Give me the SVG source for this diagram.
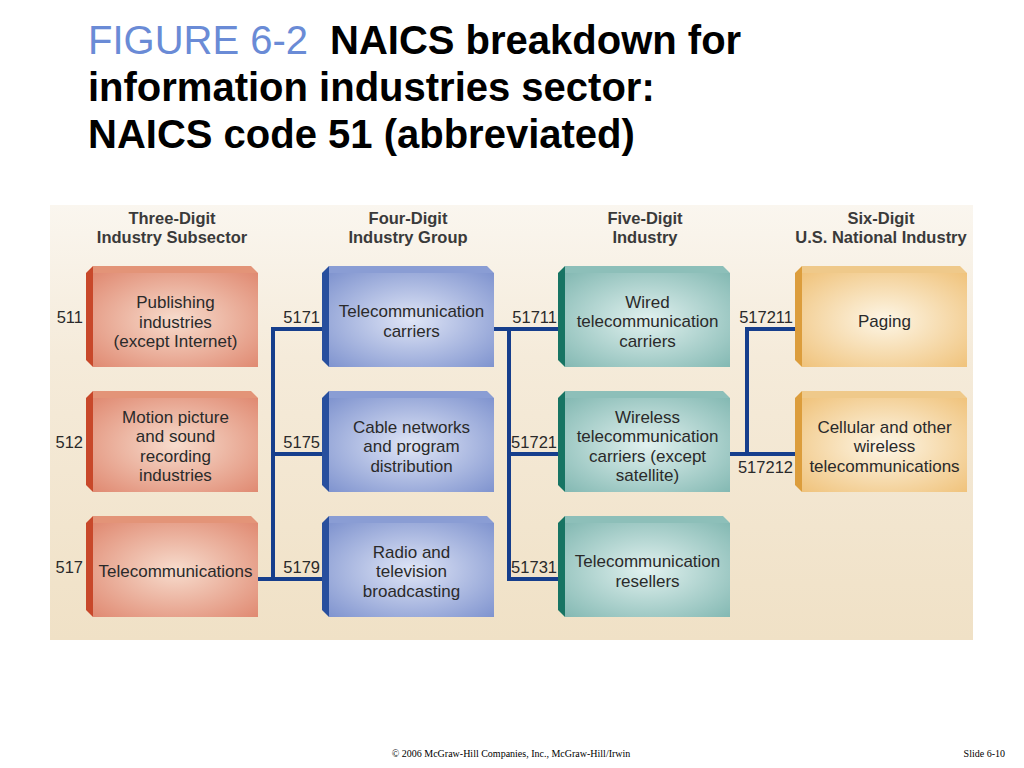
<svg xmlns="http://www.w3.org/2000/svg" xmlns:xlink="http://www.w3.org/1999/xlink" width="1024" height="768" viewBox="0 0 1024 768">
<defs>
<style>
.title{font-family:"Liberation Sans",Arial,sans-serif;font-size:40px;font-weight:bold;fill:#000}
.fig{font-family:"Liberation Sans",Arial,sans-serif;font-size:40px;fill:#6a8bd6}
.hdr{font-family:"Liberation Sans",Arial,sans-serif;font-size:16.5px;font-weight:bold;fill:#3a3a3a;text-anchor:middle}
.lbl{font-family:"Liberation Sans",Arial,sans-serif;font-size:17px;fill:#2a2a2a;text-anchor:middle}
.code{font-family:"Liberation Sans",Arial,sans-serif;font-size:16.5px;fill:#2a2a2a;text-anchor:end}
.foot{font-family:"Liberation Serif","Times New Roman",serif;font-size:10px;fill:#000}
.conn{fill:none;stroke:#163e8c;stroke-width:4;stroke-linecap:butt;stroke-linejoin:miter}
</style>
<linearGradient id="panel" x1="0" y1="0" x2="0" y2="1">
<stop offset="0" stop-color="#faf6ef"/>
<stop offset="0.35" stop-color="#f5ebda"/>
<stop offset="1" stop-color="#f0e1c6"/>
</linearGradient>
<radialGradient id="gOr" cx="0.5" cy="0.5" r="0.7">
<stop offset="0" stop-color="#f7dccd"/>
<stop offset="1" stop-color="#e08a72"/>
</radialGradient>
<radialGradient id="gBl" cx="0.5" cy="0.5" r="0.7">
<stop offset="0" stop-color="#dfe5f6"/>
<stop offset="1" stop-color="#8094cf"/>
</radialGradient>
<radialGradient id="gTe" cx="0.5" cy="0.5" r="0.7">
<stop offset="0" stop-color="#e1f1ef"/>
<stop offset="1" stop-color="#84b9b3"/>
</radialGradient>
<radialGradient id="gGo" cx="0.5" cy="0.5" r="0.7">
<stop offset="0" stop-color="#fdf6e6"/>
<stop offset="1" stop-color="#f0c37c"/>
</radialGradient>
<g id="boxOr">
<polygon points="7,7 172,7 172,101 7,101" fill="url(#gOr)"/>
<polygon points="7,0 165,0 172,7 7,7" fill="#e39478"/>
<polygon points="0,7 7,0 7,101 0,94" fill="#c8482a"/>
</g>
<g id="boxBl">
<polygon points="7,7 172,7 172,101 7,101" fill="url(#gBl)"/>
<polygon points="7,0 165,0 172,7 7,7" fill="#8a9dd4"/>
<polygon points="0,7 7,0 7,101 0,94" fill="#284f9e"/>
</g>
<g id="boxTe">
<polygon points="7,7 172,7 172,101 7,101" fill="url(#gTe)"/>
<polygon points="7,0 165,0 172,7 7,7" fill="#8dbfb9"/>
<polygon points="0,7 7,0 7,101 0,94" fill="#177463"/>
</g>
<g id="boxGo">
<polygon points="7,7 172,7 172,101 7,101" fill="url(#gGo)"/>
<polygon points="7,0 165,0 172,7 7,7" fill="#efc98a"/>
<polygon points="0,7 7,0 7,101 0,94" fill="#dc9d3c"/>
</g>
</defs>

<rect width="1024" height="768" fill="#ffffff"/>

<g id="title">
<text class="fig" x="88" y="54">FIGURE 6-2</text>
<text class="title" x="330" y="54">NAICS breakdown for</text>
<text class="title" x="88" y="101">information industries sector:</text>
<text class="title" x="88" y="148">NAICS code 51 (abbreviated)</text>
</g>

<rect id="panel-bg" x="50" y="205" width="923" height="435" fill="url(#panel)"/>

<g id="headers">
<text class="hdr" x="172" y="224">Three-Digit</text>
<text class="hdr" x="172" y="243">Industry Subsector</text>
<text class="hdr" x="408" y="224">Four-Digit</text>
<text class="hdr" x="408" y="243">Industry Group</text>
<text class="hdr" x="645" y="224">Five-Digit</text>
<text class="hdr" x="645" y="243">Industry</text>
<text class="hdr" x="881" y="224">Six-Digit</text>
<text class="hdr" x="881" y="243">U.S. National Industry</text>
</g>

<g id="connectors">
<polyline class="conn" points="258,579 273,579"/>
<polyline class="conn" points="322,329 273,329 273,579 322,579"/>
<polyline class="conn" points="273,454 322,454"/>
<polyline class="conn" points="494,329 558,329"/>
<polyline class="conn" points="509,329 509,579 558,579"/>
<polyline class="conn" points="509,454 558,454"/>
<polyline class="conn" points="730,454 795,454"/>
<polyline class="conn" points="795,329 747,329 747,454"/>
</g>

<g id="n511" transform="translate(86,266)">
<use xlink:href="#boxOr"/>
<text class="lbl" x="89.5"><tspan x="89.5" y="42">Publishing</tspan><tspan x="89.5" y="61.5">industries</tspan><tspan x="89.5" y="81">(except Internet)</tspan></text>
</g>
<g id="n512" transform="translate(86,391)">
<use xlink:href="#boxOr"/>
<text class="lbl" x="89.5"><tspan x="89.5" y="31.5">Motion picture</tspan><tspan x="89.5" y="51">and sound</tspan><tspan x="89.5" y="70.5">recording</tspan><tspan x="89.5" y="90">industries</tspan></text>
</g>
<g id="n517" transform="translate(86,516)">
<use xlink:href="#boxOr"/>
<text class="lbl" x="89.5" y="61">Telecommunications</text>
</g>

<g id="n5171" transform="translate(322,266)">
<use xlink:href="#boxBl"/>
<text class="lbl" x="89.5"><tspan x="89.5" y="51">Telecommunication</tspan><tspan x="89.5" y="70.5">carriers</tspan></text>
</g>
<g id="n5175" transform="translate(322,391)">
<use xlink:href="#boxBl"/>
<text class="lbl" x="89.5"><tspan x="89.5" y="41.5">Cable networks</tspan><tspan x="89.5" y="61">and program</tspan><tspan x="89.5" y="80.5">distribution</tspan></text>
</g>
<g id="n5179" transform="translate(322,516)">
<use xlink:href="#boxBl"/>
<text class="lbl" x="89.5"><tspan x="89.5" y="41.5">Radio and</tspan><tspan x="89.5" y="61">television</tspan><tspan x="89.5" y="80.5">broadcasting</tspan></text>
</g>

<g id="n51711" transform="translate(558,266)">
<use xlink:href="#boxTe"/>
<text class="lbl" x="89.5"><tspan x="89.5" y="41.5">Wired</tspan><tspan x="89.5" y="61">telecommunication</tspan><tspan x="89.5" y="80.5">carriers</tspan></text>
</g>
<g id="n51721" transform="translate(558,391)">
<use xlink:href="#boxTe"/>
<text class="lbl" x="89.5"><tspan x="89.5" y="31.5">Wireless</tspan><tspan x="89.5" y="51">telecommunication</tspan><tspan x="89.5" y="70.5">carriers (except</tspan><tspan x="89.5" y="90">satellite)</tspan></text>
</g>
<g id="n51731" transform="translate(558,516)">
<use xlink:href="#boxTe"/>
<text class="lbl" x="89.5"><tspan x="89.5" y="51">Telecommunication</tspan><tspan x="89.5" y="70.5">resellers</tspan></text>
</g>

<g id="n517211" transform="translate(795,266)">
<use xlink:href="#boxGo"/>
<text class="lbl" x="89.5" y="61">Paging</text>
</g>
<g id="n517212" transform="translate(795,391)">
<use xlink:href="#boxGo"/>
<text class="lbl" x="89.5"><tspan x="89.5" y="41.5">Cellular and other</tspan><tspan x="89.5" y="61">wireless</tspan><tspan x="89.5" y="80.5">telecommunications</tspan></text>
</g>

<g id="codes">
<text class="code" x="83" y="323">511</text>
<text class="code" x="83" y="448">512</text>
<text class="code" x="83" y="573">517</text>
<text class="code" x="320" y="323">5171</text>
<text class="code" x="320" y="448">5175</text>
<text class="code" x="320" y="573">5179</text>
<text class="code" x="557" y="323">51711</text>
<text class="code" x="557" y="448">51721</text>
<text class="code" x="557" y="573">51731</text>
<text class="code" x="793" y="323">517211</text>
<text class="code" x="793" y="473">517212</text>
</g>

<g id="footer">
<text class="foot" x="511" y="757" text-anchor="middle">© 2006 McGraw-Hill Companies, Inc., McGraw-Hill/Irwin</text>
<text class="foot" x="1005" y="757" text-anchor="end">Slide 6-10</text>
</g>
</svg>
